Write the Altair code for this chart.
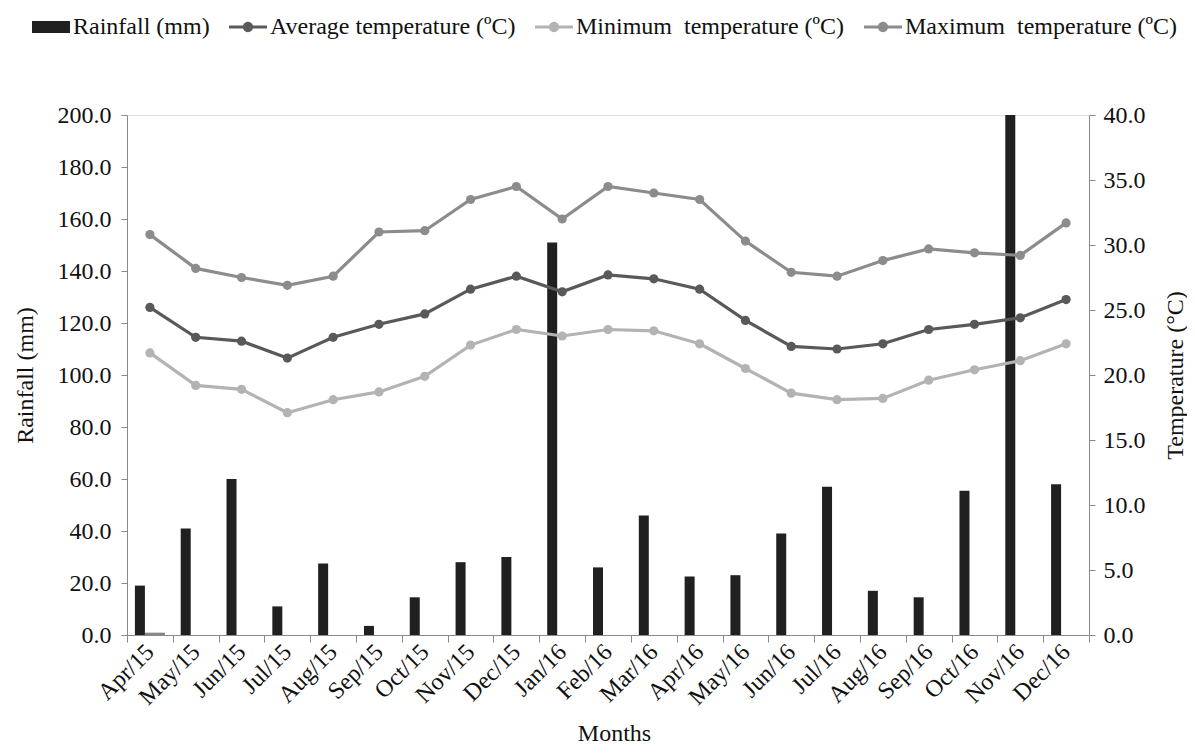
import altair as alt
import pandas as pd

months = ["Apr/15", "May/15", "Jun/15", "Jul/15", "Aug/15", "Sep/15", "Oct/15",
          "Nov/15", "Dec/15", "Jan/16", "Feb/16", "Mar/16", "Apr/16", "May/16",
          "Jun/16", "Jul/16", "Aug/16", "Sep/16", "Oct/16", "Nov/16", "Dec/16"]
rainfall = [19.0, 41.0, 60.0, 11.0, 27.5, 3.5, 14.5, 28.0, 30.0, 151.0, 26.0,
            46.0, 22.5, 23.0, 39.0, 57.0, 17.0, 14.5, 55.5, 200.0, 58.0]
avg_temp = [25.2, 22.9, 22.6, 21.3, 22.9, 23.9, 24.7, 26.6, 27.6, 26.4, 27.7,
            27.4, 26.6, 24.2, 22.2, 22.0, 22.4, 23.5, 23.9, 24.4, 25.8]
min_temp = [21.7, 19.2, 18.9, 17.1, 18.1, 18.7, 19.9, 22.3, 23.5, 23.0, 23.5,
            23.4, 22.4, 20.5, 18.6, 18.1, 18.2, 19.6, 20.4, 21.1, 22.4]
max_temp = [30.8, 28.2, 27.5, 26.9, 27.6, 31.0, 31.1, 33.5, 34.5, 32.0, 34.5,
            34.0, 33.5, 30.3, 27.9, 27.6, 28.8, 29.7, 29.4, 29.2, 31.7]
# two small unlabelled grey columns next to Apr/15
extra_months = ["Apr/15", "Apr/15"]
extra_series = ["s2", "s3"]
extra_values = [0.9, 0.9]

S_RAIN = "Rainfall (mm)"
S_AVG = "Average temperature (ºC)"
S_MIN = "Minimum\u00a0 temperature (ºC)"
S_MAX = "Maximum\u00a0 temperature (ºC)"
series_names = [S_RAIN, S_AVG, S_MIN, S_MAX]
series_colors = ["#202020", "#595959", "#b3b3b3", "#8c8c8c"]

rect_path = "M-1,-0.32H1V0.32H-1Z"
line_path = ("M-1,-0.08H1V0.08H-1Z "
             "M-0.27,0A0.27,0.27 0 1,1 0.27,0A0.27,0.27 0 1,1 -0.27,0Z")
series_shapes = [rect_path, line_path, line_path, line_path]

rain_df = pd.DataFrame({"month": months, "value": rainfall, "series": S_RAIN})
extra_df = pd.DataFrame({"month": extra_months, "value": extra_values,
                         "series": extra_series})
temp_df = pd.concat([
    pd.DataFrame({"month": months, "temp": avg_temp, "series": S_AVG}),
    pd.DataFrame({"month": months, "temp": min_temp, "series": S_MIN}),
    pd.DataFrame({"month": months, "temp": max_temp, "series": S_MAX}),
], ignore_index=True)

FONT = "Liberation Serif"
AX_GREY = "#8a8a8a"
TXT = "#111111"

color_scale = alt.Scale(domain=series_names, range=series_colors)
legend = alt.Legend(
    title=None, orient="none", legendX=-95, legendY=-107,
    direction="horizontal", labelFont=FONT, labelFontSize=24,
    labelColor=TXT, symbolSize=1444, symbolStrokeWidth=0,
    labelOffset=3, columnPadding=19, labelLimit=0,
)

x_axis = alt.Axis(
    title="Months", titleFont=FONT, titleFontSize=24, titleFontWeight="normal",
    titleColor=TXT, titleX=487, titleY=105, titleBaseline="alphabetic",
    titleAlign="center",
    labelAngle=315, labelAlign="right", labelBaseline="middle",
    labelFont=FONT, labelFontSize=24, labelColor=TXT, labelPadding=6,
    tickBand="extent", tickSize=7, tickColor=AX_GREY, domainColor=AX_GREY,
    labelOverlap=False,
)
x_enc = alt.X("month:N", sort=months, axis=x_axis,
              scale=alt.Scale(type="band", paddingInner=0, paddingOuter=0))
x_enc_noaxis = alt.X("month:N", sort=months,
                     scale=alt.Scale(type="band", paddingInner=0, paddingOuter=0))
xoff = alt.XOffset("series:N", scale=alt.Scale(domain=[S_RAIN, "s2", "s3"],
                                               paddingOuter=0.79, paddingInner=0))

left_axis = alt.Axis(
    title="Rainfall (mm)", titleFont=FONT, titleFontSize=24,
    titleFontWeight="normal", titleColor=TXT, titleAngle=270,
    titleX=-102, titleY=260, titleBaseline="middle", titleAlign="center",
    values=list(range(0, 201, 20)), format=".1f", labelFont=FONT,
    labelFontSize=24, labelColor=TXT, labelPadding=10, tickSize=6,
    tickColor=AX_GREY, domainColor=AX_GREY, grid=False,
)
right_axis = alt.Axis(
    orient="right", title="Temperature (°C)", titleFont=FONT, titleFontSize=24,
    titleFontWeight="normal", titleColor=TXT, titleAngle=270,
    titleX=86, titleY=260, titleBaseline="middle", titleAlign="center",
    values=[0, 5, 10, 15, 20, 25, 30, 35, 40], format=".1f", labelFont=FONT,
    labelFontSize=24, labelColor=TXT, labelPadding=8, tickSize=6,
    tickColor=AX_GREY, domainColor=AX_GREY, grid=False,
)

bars = alt.Chart(rain_df).mark_bar().encode(
    x=x_enc,
    xOffset=xoff,
    y=alt.Y("value:Q", scale=alt.Scale(domain=[0, 200]), axis=left_axis),
    color=alt.Color("series:N", scale=color_scale, legend=legend),
)
extra_bars = alt.Chart(extra_df).mark_bar(color="#858585").encode(
    x=x_enc_noaxis,
    xOffset=xoff,
    y=alt.Y("value:Q"),
)
left = alt.layer(bars, extra_bars)

lines = alt.Chart(temp_df).mark_line(strokeWidth=3.2).encode(
    x=x_enc_noaxis,
    y=alt.Y("temp:Q", scale=alt.Scale(domain=[0, 40]), axis=right_axis),
    color=alt.Color("series:N", scale=color_scale),
    detail="series:N",
)
points = alt.Chart(temp_df).mark_circle(size=85, opacity=1).encode(
    x=x_enc_noaxis,
    y=alt.Y("temp:Q"),
    color=alt.Color("series:N", scale=color_scale),
)
legend_only = alt.Chart(temp_df).transform_filter("false").mark_point(
    filled=True, opacity=1, size=1444
).encode(
    x=x_enc_noaxis,
    y=alt.Y("temp:Q"),
    color=alt.Color("series:N", scale=color_scale, legend=legend),
    shape=alt.Shape("series:N",
                    scale=alt.Scale(domain=series_names, range=series_shapes),
                    legend=legend),
)
right = alt.layer(lines, points, legend_only)

chart = alt.layer(left, right).resolve_scale(y="independent").properties(
    width=962, height=520,
    autosize=alt.AutoSizeParams(type="none"),
    padding={"left": 119, "top": 107, "right": 98, "bottom": 110},
).configure_view(stroke=None).configure(background="white").configure_axis(
    labelFont=FONT, titleFont=FONT
).configure_legend(labelFont=FONT)

chart.save("out.html", embed_options={"renderer": "svg", "actions": False})
